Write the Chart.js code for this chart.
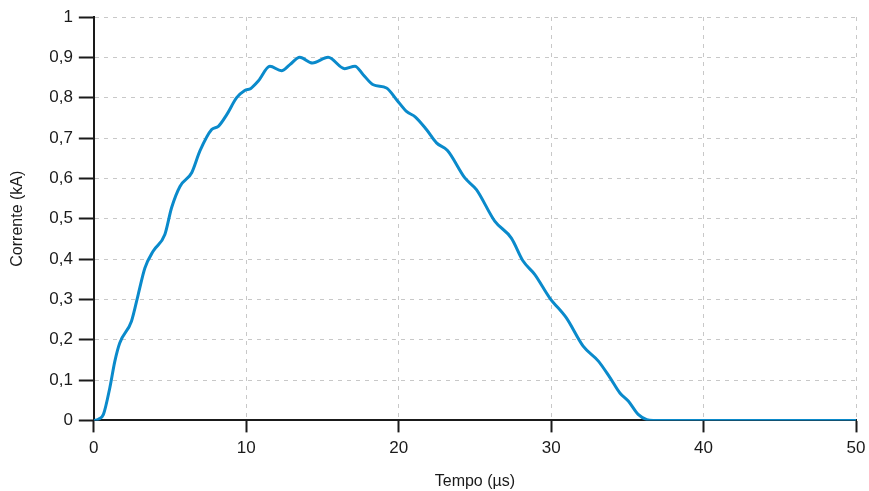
<!DOCTYPE html>
<html>
<head>
<meta charset="utf-8">
<script src="https://cdn.jsdelivr.net/npm/chart.js@4"></script>
<style>
  html, body { margin: 0; padding: 0; background: #fff; }
  #wrap { width: 869px; height: 491px; position: relative; }
</style>
</head>
<body>
<div id="wrap"><canvas id="chart"></canvas></div>
<script>
// Current pulse
const timeUs = [0, 0.3, 0.63, 1.05, 1.38, 1.7, 2.47, 2.91, 3.35, 3.9, 4.66, 5.1, 5.65, 6.42, 6.96, 7.73, 8.17, 8.72, 9.37, 9.9, 10.3, 10.8, 11.55, 12.31, 12.86, 13.51, 14.34, 15.37, 16.46, 17.13, 17.67, 18.33, 19.2, 19.86, 20.51, 21.1, 21.82, 22.48, 23.2, 24.34, 25.1, 26.3, 27.39, 28.16, 28.92, 29.9, 31.0, 32.1, 33.1, 33.86, 34.51, 35.06, 35.71, 36.27, 36.7, 50];
const currentKA = [0, 0.003, 0.015, 0.081, 0.147, 0.192, 0.246, 0.312, 0.378, 0.42, 0.461, 0.527, 0.58, 0.614, 0.668, 0.721, 0.729, 0.758, 0.8, 0.818, 0.823, 0.842, 0.878, 0.867, 0.882, 0.9, 0.886, 0.9, 0.872, 0.878, 0.857, 0.832, 0.824, 0.795, 0.766, 0.752, 0.721, 0.688, 0.669, 0.601, 0.572, 0.494, 0.452, 0.395, 0.362, 0.304, 0.254, 0.184, 0.147, 0.106, 0.068, 0.048, 0.015, 0.002, 0, 0];

const xTicks = [0, 10, 20, 30, 40, 50];
const yTicks = [0, 0.1, 0.2, 0.3, 0.4, 0.5, 0.6, 0.7, 0.8, 0.9, 1];

const FONT = "'Liberation Sans', Arial, sans-serif";
const ink = '#1a1a1a';
const gridCol = '#c8c8c8';

const points = timeUs.map((t, i) => ({ x: t, y: currentKA[i] }));

new Chart(document.getElementById('chart'), {
    type: 'line',
    data: {
        datasets: [{
            data: points,
            borderColor: '#0a8acb',
            borderWidth: 3,
            pointRadius: 0,
            fill: false,
            cubicInterpolationMode: 'monotone'
        }]
    },
    options: {
        responsive: true,
        maintainAspectRatio: false,
        animation: false,
        layout: { padding: { top: 17, right: 0, left: 8, bottom: 0 } },
        plugins: {
            legend: { display: false },
            tooltip: { enabled: false }
        },
        scales: {
            x: {
                type: 'linear',
                min: 0,
                max: 50,
                afterBuildTicks: axis => { axis.ticks = xTicks.map(v => ({ value: v })); },
                afterFit: axis => { axis.paddingRight = 13; },
                border: { color: ink, width: 2, dash: [4, 5] },
                grid: {
                    color: gridCol,
                    tickColor: ink,
                    tickWidth: 2,
                    tickLength: 12,
                    tickBorderDash: []
                },
                ticks: {
                    color: ink,
                    padding: 6,
                    font: { family: FONT, size: 17 }
                },
                title: {
                    display: true,
                    text: 'Tempo (µs)',
                    color: ink,
                    padding: { top: 7, bottom: 0 },
                    font: { family: FONT, size: 16 }
                }
            },
            y: {
                min: 0,
                max: 1,
                afterBuildTicks: axis => { axis.ticks = yTicks.map(v => ({ value: v })); },
                border: { color: ink, width: 2, dash: [4, 5] },
                grid: {
                    color: gridCol,
                    tickColor: ink,
                    tickWidth: 2,
                    tickLength: 15,
                    tickBorderDash: []
                },
                ticks: {
                    color: ink,
                    padding: 6,
                    font: { family: FONT, size: 17 },
                    callback: v => String(Math.round(v * 10) / 10).replace('.', ',')
                },
                title: {
                    display: true,
                    text: 'Corrente (kA)',
                    color: ink,
                    padding: { top: 0, bottom: 16 },
                    font: { family: FONT, size: 16 }
                }
            }
        }
    }
});
</script>
</body>
</html>
